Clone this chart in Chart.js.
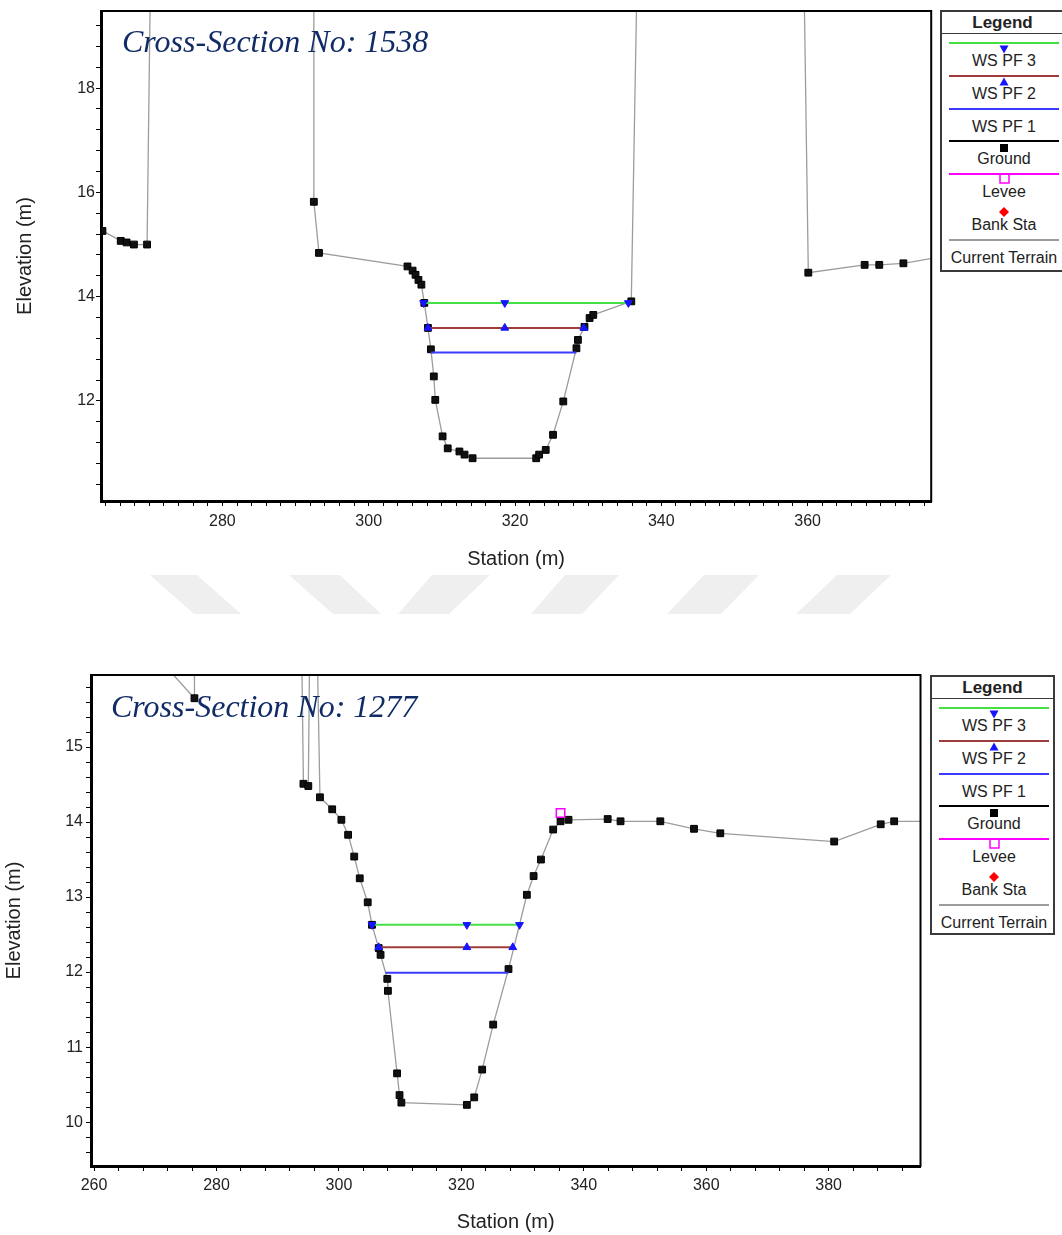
<!DOCTYPE html>
<html>
<head>
<meta charset="utf-8">
<title>Cross-Sections 1538 / 1277</title>
<script src="https://cdn.jsdelivr.net/npm/chart.js@4.4.1/dist/chart.umd.min.js"></script>
<style>
  html, body { margin: 0; padding: 0; background: #fff; overflow: hidden; }
  body { width: 1062px; height: 1235px; position: relative; font-family: "Liberation Sans", Arial, sans-serif; }
  canvas { position: absolute; left: 0; }
  #c1538 { top: 0; }
  #c1277 { top: 640px; }
  .xs-title {
    position: absolute; white-space: nowrap; pointer-events: none;
    font-family: "Liberation Serif", "Times New Roman", serif; font-style: italic;
    font-size: 32px; line-height: 32px; color: #102b66;
  }
  .legend { position: absolute; width: 125px; box-sizing: border-box; border: 2px solid #3a3a3a; background: #fff; color: #222; }
  .legend .head { height: 21px; border-bottom: 1.5px solid #3a3a3a; font-weight: bold; font-size: 17px; line-height: 21px; text-align: center; }
  .legend .ln { position: absolute; left: 7px; width: 110px; height: 2px; }
  .legend .mk { position: absolute; }
  .legend .lb { position: absolute; left: 0; width: 124px; height: 20px; line-height: 20px; font-size: 16px; text-align: center; white-space: nowrap; }
  #wm { position: absolute; left: 0; top: 575px; }
</style>
</head>
<body>
<canvas id="c1538" width="937" height="585"></canvas>
<canvas id="c1277" width="928" height="595"></canvas>

<div class="xs-title" style="left:122px; top:25px;">Cross-Section No: 1538</div>
<div class="xs-title" style="left:111px; top:690px;">Cross-Section No: 1277</div>

<div class="legend" id="leg1538" style="left:940px; top:10px; height:262px;"><div class="head">Legend</div></div>
<div class="legend" id="leg1277" style="left:930px; top:675px; height:260px;"><div class="head">Legend</div></div>

<svg id="wm" width="1062" height="39">
  <polygon points="150,0 197,0 241,39 194,39" fill="#efefef"/>
  <polygon points="289,0 340,0 381,39 333,39" fill="#efefef"/>
  <polygon points="432,0 490,0 449,39 398,39" fill="#efefef"/>
  <polygon points="565,0 619,0 582,39 531,39" fill="#efefef"/>
  <polygon points="704,0 759,0 721,39 667,39" fill="#efefef"/>
  <polygon points="837,0 891,0 850,39 796,39" fill="#efefef"/>
</svg>

<script>
// ---- Cross-section 1538 ----
// ground points (off-chart ones carry the walls up out of view)
const sta1538 = [262.0, 263.6, 266.1, 266.9, 267.9, 269.7, 270.6, 292.5, 292.5, 293.2,
  305.3, 306.0, 306.4, 306.8, 307.2, 307.6, 308.1, 308.5, 308.9, 309.1,
  310.1, 310.8, 312.4, 313.1, 314.2, 322.9, 323.3, 324.2, 325.2, 326.6,
  328.4, 328.6, 329.5, 330.2, 330.7, 335.9, 337.3, 359.0, 360.1, 367.8,
  369.8, 373.1, 379.0];
const elev1538 = [15.32, 15.26, 15.07, 15.04, 15.00, 15.00, 25.0, 25.0, 15.82, 14.84,
  14.58, 14.50, 14.42, 14.32, 14.23, 13.88, 13.40, 12.99, 12.47, 12.02,
  11.32, 11.09, 11.03, 10.97, 10.90, 10.90, 10.97, 11.06, 11.35, 11.99,
  13.01, 13.17, 13.42, 13.59, 13.65, 13.91, 25.0, 25.0, 14.46, 14.61,
  14.61, 14.64, 14.78];
// water surfaces, order: PF 3, PF 2, PF 1
const ws1538Elev  = [13.88, 13.40, 12.93];
const ws1538Left  = [307.5, 308.1, 308.5];
const ws1538Mid   = [318.6, 318.6, null];
const ws1538Right = [335.5, 329.4, 328.4];
const xRange1538 = [263.4, 376.9];
const yRange1538 = [10.08, 19.48];

// ---- Cross-section 1277 ----
const sta1277 = [270.3, 276.4, 276.4, 293.8, 294.2, 295.0, 295.3, 296.3, 296.9, 298.9,
  300.4, 301.5, 302.5, 303.4, 304.7, 305.4, 306.5, 306.8, 307.9, 308.0,
  309.5, 309.9, 310.2, 320.9, 322.1, 323.4, 325.2, 327.7, 330.7, 331.8,
  333.0, 335.0, 336.2, 337.5, 343.9, 346.0, 352.5, 358.0, 362.3, 380.9,
  388.5, 390.7, 398.0];
const elev1277 = [16.20, 15.65, 17.0, 17.0, 14.51, 14.48, 17.0, 17.0, 14.33, 14.17,
  14.03, 13.83, 13.54, 13.25, 12.93, 12.63, 12.32, 12.23, 11.91, 11.75,
  10.65, 10.36, 10.26, 10.23, 10.33, 10.70, 11.30, 12.04, 13.03, 13.28,
  13.50, 13.90, 14.01, 14.03, 14.04, 14.01, 14.01, 13.91, 13.85, 13.74,
  13.97, 14.01, 14.01];
const ws1277Elev  = [12.63, 12.33, 11.99];
const ws1277Left  = [305.4, 306.5, 307.6];
const ws1277Mid   = [320.9, 320.9, null];
const ws1277Right = [329.5, 328.4, 327.7];
const levee1277Sta = [336.2];
const levee1277Elev = [14.12];
const xRange1277 = [259.5, 395.0];
const yRange1277 = [9.415, 15.96];

const wsNames = ['WS PF 3', 'WS PF 2', 'WS PF 1'];
const wsColors = ['#44e044', '#a03c3c', '#3b3bff'];
const MARK_BLUE = '#1515ff';

// frame round the plot area
const framePlugin = {
  id: 'frame',
  afterDraw(chart) {
    const { ctx, chartArea: a } = chart;
    ctx.save();
    ctx.strokeStyle = '#000';
    ctx.lineWidth = 2;
    ctx.strokeRect(a.left, a.top, a.right - a.left, a.bottom - a.top);
    ctx.restore();
  }
};

function pts(xs, ys) {
  return xs.map((x, i) => ({ x, y: ys[i] }));
}

function wsDatasets(left, mid, right, elev) {
  return wsNames.map((name, i) => {
    const xs = mid[i] == null ? [left[i], right[i]] : [left[i], mid[i], right[i]];
    return {
      label: name,
      data: xs.map(x => ({ x, y: elev[i] })),
      showLine: true,
      borderColor: wsColors[i],
      borderWidth: 2,
      pointStyle: 'triangle',
      rotation: i === 0 ? 180 : 0,
      pointRadius: i === 2 ? 0 : 4.5,
      pointBackgroundColor: MARK_BLUE,
      pointBorderColor: MARK_BLUE,
      pointBorderWidth: 1
    };
  });
}

function groundDataset(xs, ys) {
  return {
    label: 'Ground',
    data: pts(xs, ys),
    showLine: true,
    borderColor: '#9c9c9c',
    borderWidth: 1.3,
    pointStyle: 'rect',
    pointRadius: 4.8,
    pointBackgroundColor: '#111',
    pointBorderColor: '#000',
    pointBorderWidth: 1
  };
}

function isMajor(v, step) {
  return Math.abs(v / step - Math.round(v / step)) < 1e-6;
}

// o: layout numbers for one chart
function makeXS(id, datasets, xr, yr, o) {
  const tickFont = { family: 'Liberation Sans', size: 16 };
  const titleFont = { family: 'Liberation Sans', size: 20 };
  return new Chart(document.getElementById(id), {
    type: 'scatter',
    data: { datasets },
    plugins: [framePlugin],
    options: {
      responsive: false,
      animation: false,
      layout: { padding: { top: o.top, right: o.right, left: 0, bottom: 0 } },
      plugins: { legend: { display: false }, tooltip: { enabled: false } },
      scales: {
        x: {
          type: 'linear', min: xr[0], max: xr[1],
          afterFit: s => { s.height = o.xH; s.paddingLeft = 0; s.paddingRight = 0; },
          grid: { drawOnChartArea: false, tickLength: 5, color: '#000' },
          border: { display: true, color: '#000', width: 3 },
          ticks: {
            stepSize: o.xStep, includeBounds: false, autoSkip: false, maxRotation: 0,
            padding: o.xPad, color: '#222', font: tickFont,
            callback: v => isMajor(v, o.xMajor) ? String(Math.round(v)) : ''
          },
          title: { display: true, text: 'Station (m)', color: '#222', font: titleFont,
                   padding: { top: 0, bottom: o.xTitlePad } }
        },
        y: {
          type: 'linear', min: yr[0], max: yr[1],
          afterFit: s => { s.width = o.yW; s.paddingTop = 0; s.paddingBottom = 0; },
          grid: { drawOnChartArea: false, tickLength: 5, color: '#000' },
          border: { display: true, color: '#000', width: 3 },
          ticks: {
            stepSize: o.yStep, includeBounds: false, autoSkip: false,
            padding: o.yPad, color: '#222', font: tickFont,
            callback: v => isMajor(v, o.yMajor) ? String(Math.round(v)) : ''
          },
          title: { display: true, text: 'Elevation (m)', color: '#222', font: titleFont,
                   padding: { top: o.yTitlePad, bottom: 0 } }
        }
      }
    }
  });
}

makeXS('c1538',
  [...wsDatasets(ws1538Left, ws1538Mid, ws1538Right, ws1538Elev), groundDataset(sta1538, elev1538)],
  xRange1538, yRange1538,
  { top: 11, right: 5, xH: 84, yW: 101, xStep: 2, xMajor: 20, yStep: 0.4, yMajor: 2,
    xPad: 6, yPad: 1, xTitlePad: 14, yTitlePad: 13 });

makeXS('c1277',
  [...wsDatasets(ws1277Left, ws1277Mid, ws1277Right, ws1277Elev), groundDataset(sta1277, elev1277),
   { label: 'Levee', data: pts(levee1277Sta, levee1277Elev), order: -1, showLine: false,
     pointStyle: 'rect', pointRadius: 6, pointBackgroundColor: 'rgba(0,0,0,0)',
     pointBorderColor: '#ff00ff', pointBorderWidth: 1.5 }],
  xRange1277, yRange1277,
  { top: 35, right: 5, xH: 69, yW: 91, xStep: 4, xMajor: 20, yStep: 0.2, yMajor: 1,
    xPad: 5, yPad: 3, xTitlePad: 1, yTitlePad: 2 });

// HEC-RAS style legend: sample line with marker, label underneath
const legendItems = [
  { label: 'WS PF 3', line: wsColors[0], mark: 'tdown' },
  { label: 'WS PF 2', line: wsColors[1], mark: 'tup' },
  { label: 'WS PF 1', line: wsColors[2], mark: null },
  { label: 'Ground', line: '#000', mark: 'sq' },
  { label: 'Levee', line: '#ff00ff', mark: 'osq' },
  { label: 'Bank Sta', line: null, mark: 'dia' },
  { label: 'Current Terrain', line: '#9c9c9c', mark: null }
];

const markSvg = {
  tdown: '<svg width="10" height="9"><polygon points="0.5,0.5 9.5,0.5 5,8.5" fill="#1515ff"/></svg>',
  tup: '<svg width="10" height="9"><polygon points="5,0.5 9.5,8.5 0.5,8.5" fill="#1515ff"/></svg>',
  sq: '<svg width="8" height="8"><rect x="0" y="0" width="8" height="8" fill="#000"/></svg>',
  osq: '<svg width="11" height="11"><rect x="1" y="1" width="9" height="9" fill="none" stroke="#ff00ff" stroke-width="1.5"/></svg>',
  dia: '<svg width="10" height="10"><polygon points="5,0 10,5 5,10 0,5" fill="#ff0000"/></svg>'
};
const markSize = { tdown: [10, 9], tup: [10, 9], sq: [8, 8], osq: [11, 11], dia: [10, 10] };

function buildLegend(id) {
  const box = document.getElementById(id);
  legendItems.forEach((it, i) => {
    const ly = 31 + i * 32.75;
    if (it.line) {
      const ln = document.createElement('div');
      ln.className = 'ln';
      ln.style.top = (ly - 1) + 'px';
      ln.style.background = it.line;
      box.appendChild(ln);
    }
    if (it.mark) {
      const [w, h] = markSize[it.mark];
      const mk = document.createElement('div');
      mk.className = 'mk';
      mk.style.left = (62 - w / 2) + 'px';
      mk.style.top = (ly - h / 2 + 1) + 'px';
      mk.style.width = w + 'px';
      mk.style.height = h + 'px';
      mk.innerHTML = markSvg[it.mark];
      box.appendChild(mk);
    }
    const lb = document.createElement('div');
    lb.className = 'lb';
    lb.style.top = (ly + 18 - 10) + 'px';
    lb.textContent = it.label;
    box.appendChild(lb);
  });
}

buildLegend('leg1538');
buildLegend('leg1277');
</script>
</body>
</html>
